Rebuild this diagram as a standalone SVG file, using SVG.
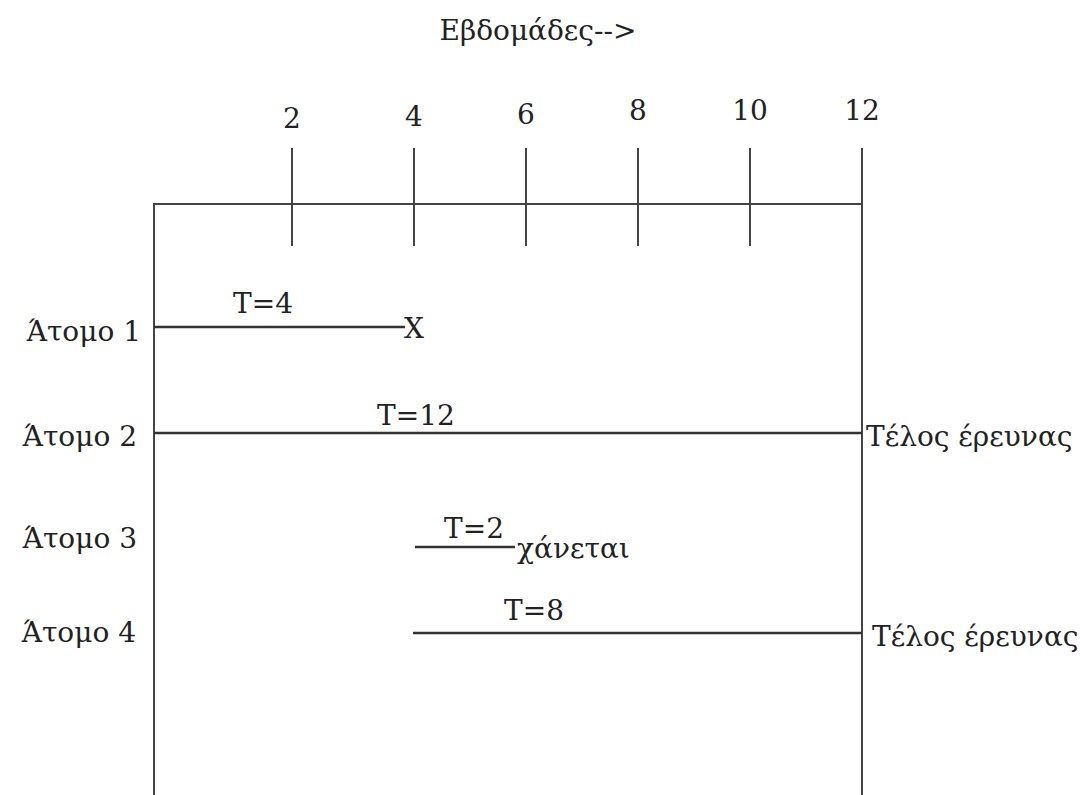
<svg xmlns="http://www.w3.org/2000/svg" width="1080" height="795" viewBox="0 0 1080 795">
<style>
.ax{stroke:#444;stroke-width:2;fill:none}
.ln{stroke:#333;stroke-width:2.5;fill:none}
.t{font-family:"DejaVu Serif",serif;font-size:28px;fill:#222}
</style>
<rect width="1080" height="795" fill="#fff"/>
<g class="t">
<g id="title"><text x="538" y="40" text-anchor="middle">Εβδομάδες--&gt;</text></g>
<g id="axis">
<path class="ax" d="M154,795 V204 H862 V795"/>
<path class="ax" d="M292,148 V246 M414,148 V246 M526,148 V246 M638,148 V246 M750,148 V246 M862,148 V246"/>
<text x="292" y="128" text-anchor="middle">2</text>
<text x="414" y="126" text-anchor="middle">4</text>
<text x="526" y="124" text-anchor="middle">6</text>
<text x="638" y="120" text-anchor="middle">8</text>
<text x="750" y="120" text-anchor="middle">10</text>
<text x="862" y="120" text-anchor="middle">12</text>
</g>
<g id="labels">
<text x="141" y="341" text-anchor="end">Άτομο 1</text>
<text x="137" y="446" text-anchor="end">Άτομο 2</text>
<text x="137" y="548" text-anchor="end">Άτομο 3</text>
<text x="136" y="642" text-anchor="end">Άτομο 4</text>
</g>
<g id="connectors">
<line class="ln" x1="154" y1="327" x2="405" y2="327"/>
<line class="ln" x1="154" y1="433" x2="862" y2="433"/>
<line class="ln" x1="415" y1="547" x2="515" y2="547"/>
<line class="ln" x1="413" y1="633" x2="862" y2="633"/>
</g>
<g id="row1"><text x="263" y="313" text-anchor="middle">T=4</text><text x="404" y="338">X</text></g>
<g id="row2"><text x="416" y="425" text-anchor="middle">T=12</text><text x="866" y="446">Τέλος έρευνας</text></g>
<g id="row3"><text x="474" y="538" text-anchor="middle">T=2</text><text x="517" y="558">χάνεται</text></g>
<g id="row4"><text x="534" y="620" text-anchor="middle">T=8</text><text x="872" y="646">Τέλος έρευνας</text></g>
</g>
</svg>
